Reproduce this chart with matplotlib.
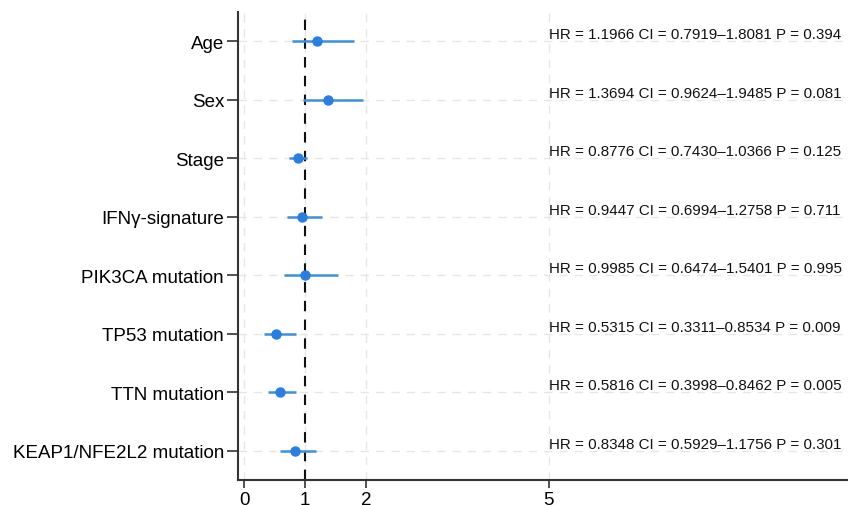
import matplotlib
matplotlib.use("Agg")
import matplotlib.pyplot as plt

plt.rcParams['font.family'] = ['Liberation Sans', 'DejaVu Sans']

variables = ["Age", "Sex", "Stage", "IFNγ-signature", "PIK3CA mutation",
             "TP53 mutation", "TTN mutation", "KEAP1/NFE2L2 mutation"]
hr = [1.1966, 1.3694, 0.8776, 0.9447, 0.9985, 0.5315, 0.5816, 0.8348]
ci_low = [0.7919, 0.9624, 0.7430, 0.6994, 0.6474, 0.3311, 0.3998, 0.5929]
ci_high = [1.8081, 1.9485, 1.0366, 1.2758, 1.5401, 0.8534, 0.8462, 1.1756]
p_vals = ["0.394", "0.081", "0.125", "0.711", "0.995", "0.009", "0.005", "0.301"]
x_ticks = [0, 1, 2, 5]

fig = plt.figure(figsize=(8.48, 5.06), dpi=100)
ax = fig.add_axes([238/848, 1 - 481/506, 1 - 238/848 + 0.01, (481 - 13)/506])

ypos = list(range(len(variables)))
ax.hlines(ypos, ci_low, ci_high, color='#3d8fe0', lw=1.8, zorder=3)
ax.plot(hr, ypos, 'o', color='#2b7de0', ms=6.5, zorder=4)
ax.axvline(1, color='#111111', ls=(0, (5, 4)), lw=1.5, zorder=2)

for y, h, lo, hi, p in zip(ypos, hr, ci_low, ci_high, p_vals):
    ax.text(5, y - 0.12, f"HR = {h:.4f} CI = {lo:.4f}–{hi:.4f} P = {p}",
            ha='left', va='center', fontsize=10.9, color='#111111')

ax.set_xlim(-0.1, 10.05)
ax.set_ylim(len(variables) - 0.5, -0.5)
ax.set_xticks(x_ticks)
ax.set_xticklabels([str(t) for t in x_ticks])
ax.set_yticks(ypos)
ax.set_yticklabels(variables)
ax.tick_params(axis='y', labelsize=13.5, length=8, width=1.2, color='#333333', pad=2)
ax.tick_params(axis='x', labelsize=13.5, length=6, width=1.2, color='#333333', pad=2)

ax.grid(True, color='#e6e6e6', ls=(0, (6, 5)), lw=1.0, zorder=0)
ax.set_axisbelow(True)
for s in ['top', 'right']:
    ax.spines[s].set_visible(False)
for s in ['left', 'bottom']:
    ax.spines[s].set_color('#333333')
    ax.spines[s].set_linewidth(1.5)

fig.savefig("out.png", dpi=100)
